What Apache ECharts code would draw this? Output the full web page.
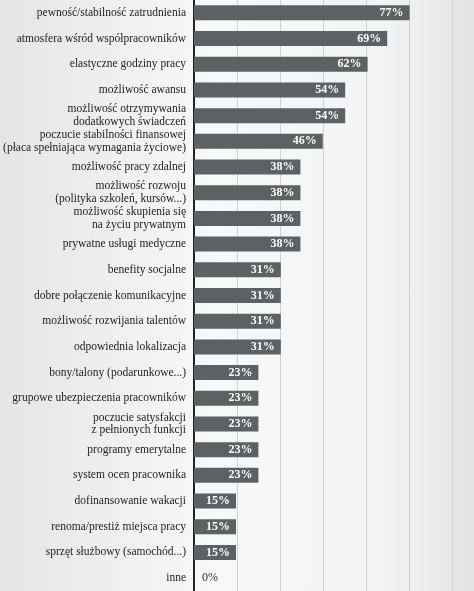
<!DOCTYPE html><html><head><meta charset="utf-8"><script src="https://cdn.jsdelivr.net/npm/echarts@6/dist/echarts.min.js"></script>
<style>html,body{margin:0;padding:0;}#c{width:474px;height:591px;background:linear-gradient(90deg,#e4e6e6 0%,#f7f8f8 45%,#f3f4f4 80%,#e2e4e4 100%);}</style></head><body><div id="c"></div><script>
const categories=["pewność/stabilność zatrudnienia","atmosfera wśród współpracowników","elastyczne godziny pracy","możliwość awansu","możliwość otrzymywania\ndodatkowych świadczeń","poczucie stabilności finansowej\n(płaca spełniająca wymagania życiowe)","możliwość pracy zdalnej","możliwość rozwoju\n(polityka szkoleń, kursów...)","możliwość skupienia się\nna życiu prywatnym","prywatne usługi medyczne","benefity socjalne","dobre połączenie komunikacyjne","możliwość rozwijania talentów","odpowiednia lokalizacja","bony/talony (podarunkowe...)","grupowe ubezpieczenia pracowników","poczucie satysfakcji\nz pełnionych funkcji","programy emerytalne","system ocen pracownika","dofinansowanie wakacji","renoma/prestiż miejsca pracy","sprzęt służbowy (samochód...)","inne"];
const values=[77,69,62,54,54,46,38,38,38,38,31,31,31,31,23,23,23,23,23,15,15,15,0];
const ch=echarts.init(document.getElementById('c'));
ch.setOption({
 grid:{left:194,right:0,top:0,bottom:0},
 xAxis:{type:'value',min:0,max:100,interval:100*2/13,axisLabel:{show:false},axisLine:{show:false},axisTick:{show:false},splitLine:{lineStyle:{color:'#cfd1d1',width:1}}},
 yAxis:{type:'category',inverse:true,data:categories,axisTick:{show:false},axisLine:{lineStyle:{color:'#222',width:2}},
  axisLabel:{fontFamily:'Liberation Serif',fontSize:11.5,color:'#222',margin:8,lineHeight:12.5}},
 series:[{type:'bar',barWidth:15,itemStyle:{color:'#5b6164'},
  data:values.map(v=>v===0?{value:v,label:{position:'right',color:'#333',fontWeight:'normal',distance:8}}:v),
  label:{show:true,position:'insideRight',color:'#fff',fontFamily:'Liberation Serif',fontSize:12,fontWeight:'bold',distance:6,formatter:'{c}%'}}]
});
</script></body></html>
